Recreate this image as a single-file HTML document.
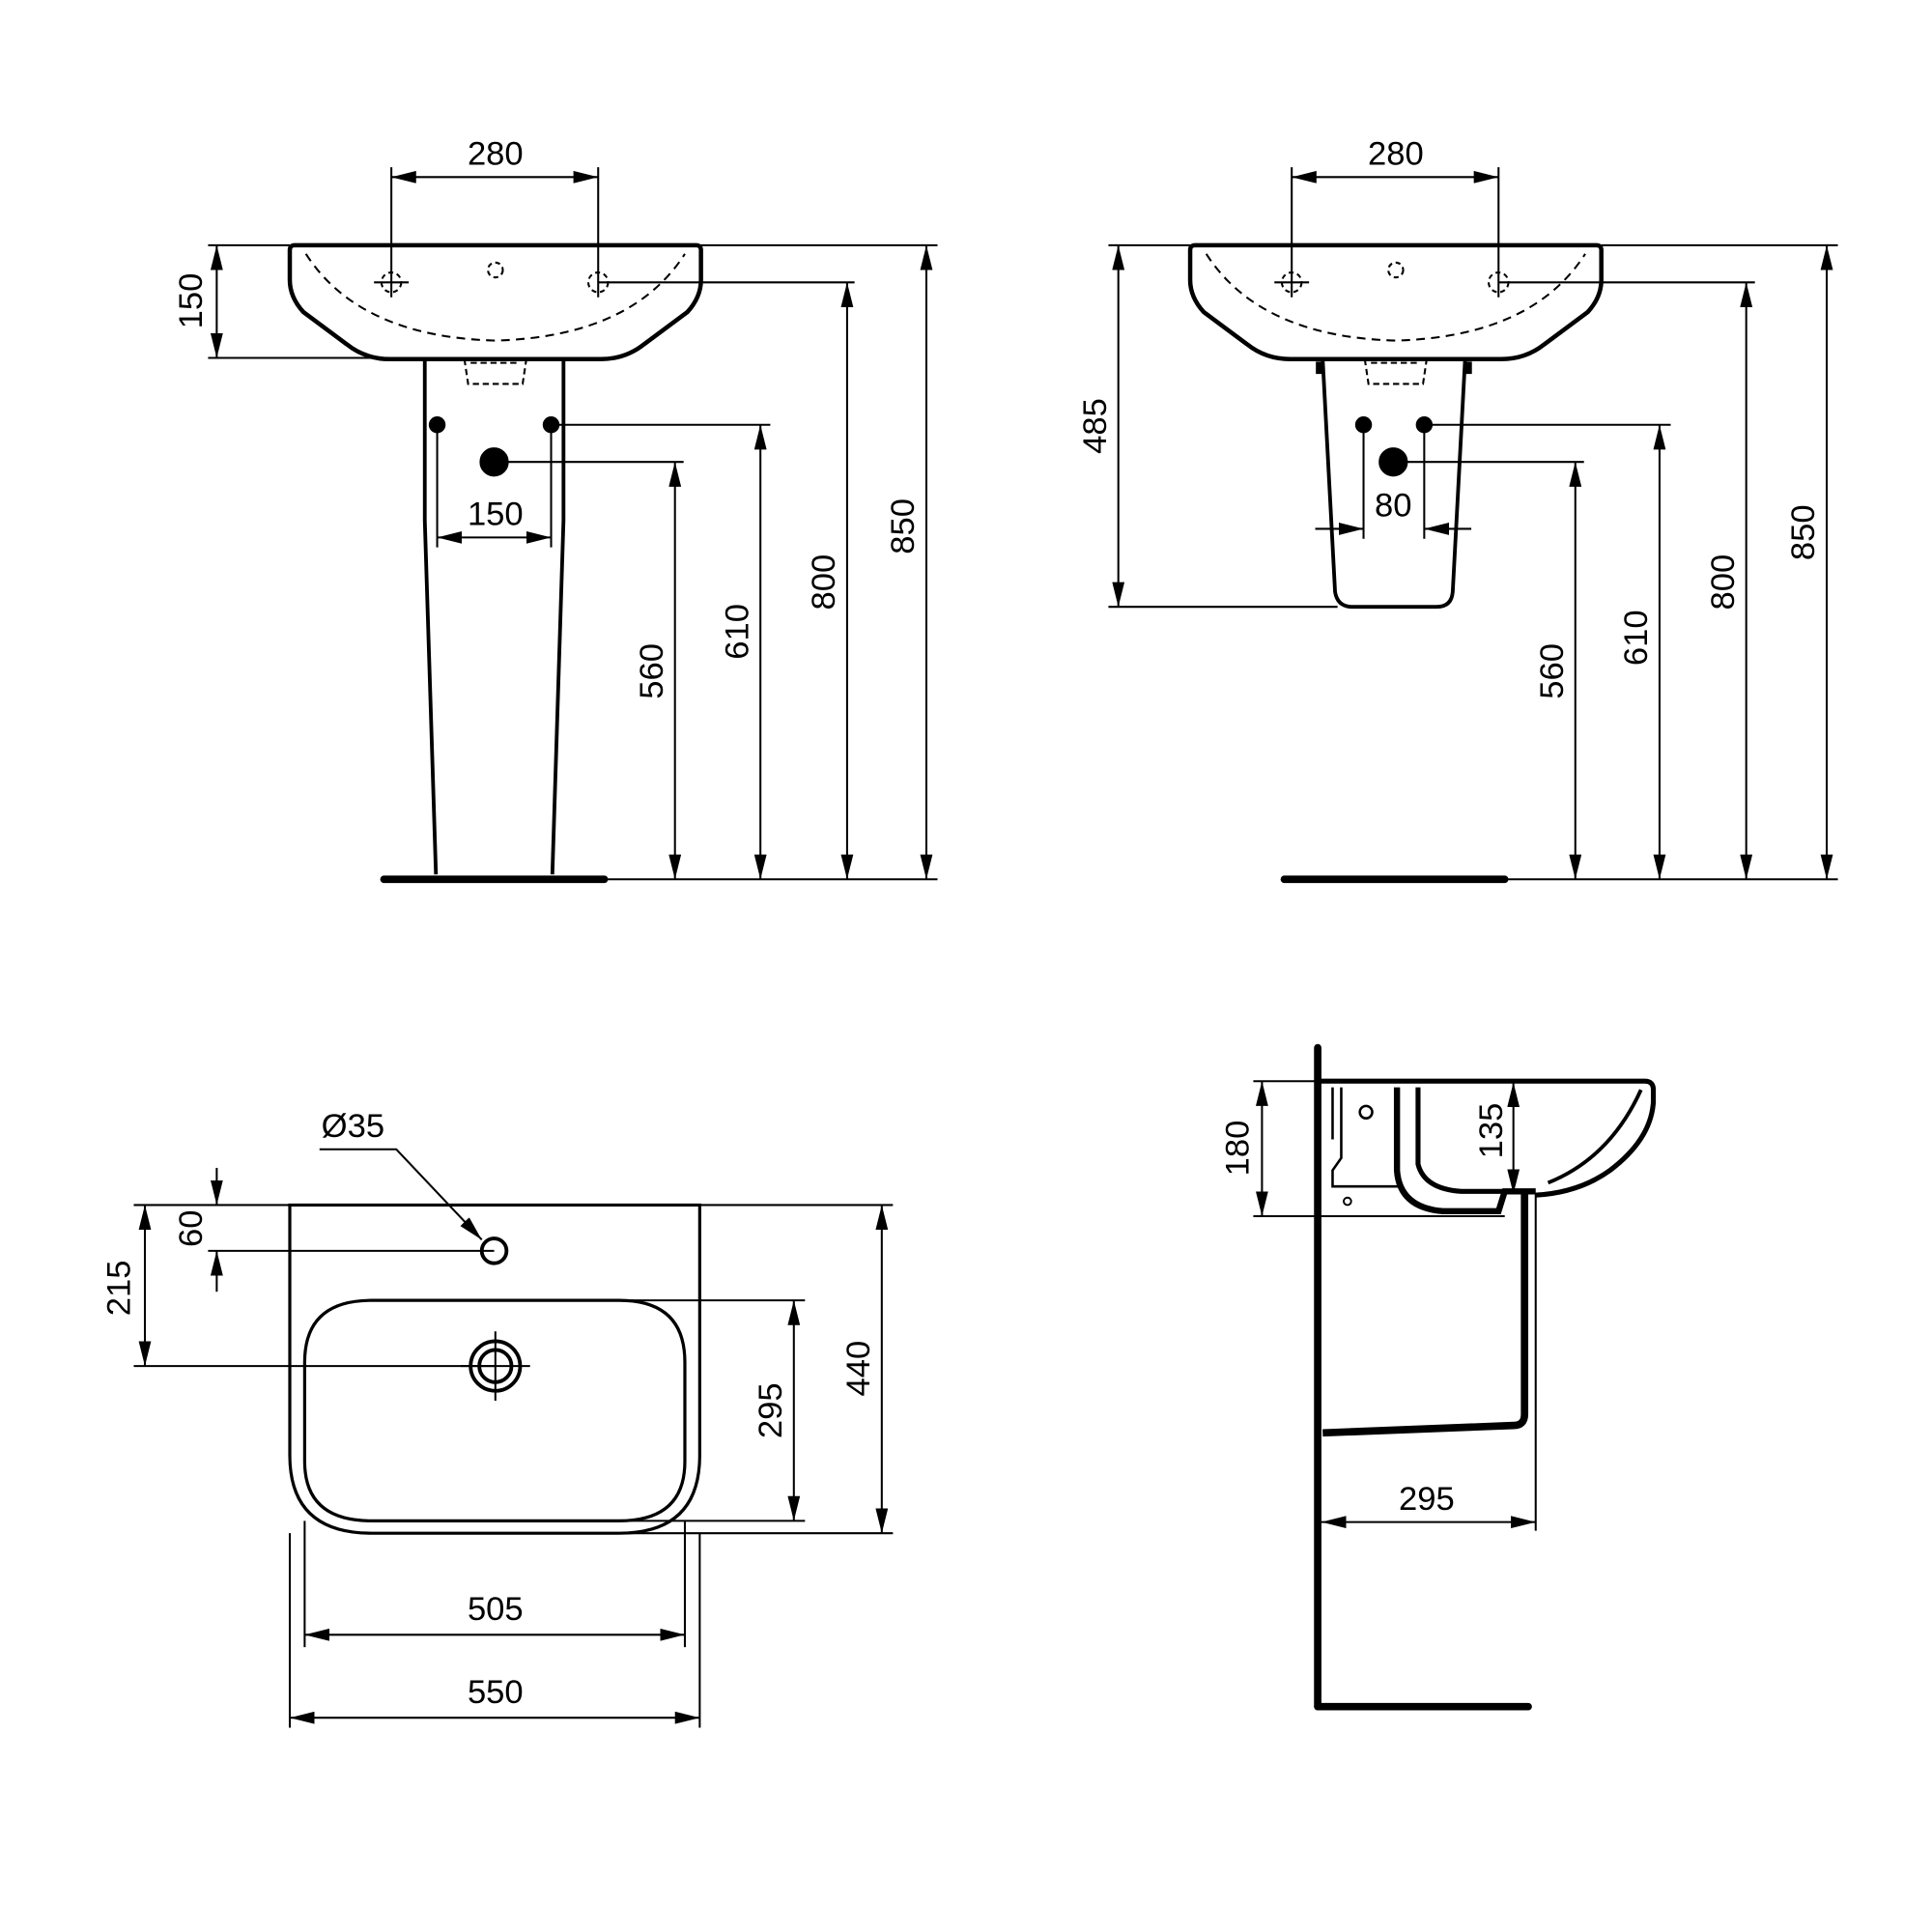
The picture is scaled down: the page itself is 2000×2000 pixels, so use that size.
<!DOCTYPE html>
<html><head><meta charset="utf-8"><style>html,body{margin:0;padding:0;background:#fff}svg{display:block}</style></head>
<body>
<svg width="2000" height="2000" viewBox="0 0 1560 1560" xmlns="http://www.w3.org/2000/svg" font-family="Liberation Sans, sans-serif" font-size="27" fill="none" stroke="#000">
<defs>
<marker id="a" viewBox="0 0 20 10" refX="20" refY="5" markerWidth="20" markerHeight="10" markerUnits="userSpaceOnUse" orient="auto-start-reverse"><path d="M0,0 L20,5 L0,10 Z" fill="#000" stroke="none"/></marker>
</defs>
<g stroke-width="1.6">
<!-- ============ TOP LEFT ============ -->
<g id="tl">
<path d="M238,198 H562 Q566,198 566,202 V226 Q566,240 555,252 L520,278 Q505,290 485,290 H315 Q295,290 280,278 L245,252 Q234,240 234,226 V202 Q234,198 238,198 Z" stroke-width="3.5"/>
<path d="M247,205 Q290,272 400,275 Q510,272 553,205" stroke-dasharray="7,5"/>
<circle cx="400" cy="218" r="6" stroke-dasharray="4,3"/>
<circle cx="316" cy="228" r="8" stroke-dasharray="4,3"/><line x1="302" y1="228" x2="330" y2="228"/>
<circle cx="483" cy="228" r="8" stroke-dasharray="4,3"/>
<path d="M375,290 L378,310 H422 L425,290 M380,293 H420" stroke-dasharray="5,3"/>
<path d="M343,290 V420 L352,706 M455,290 V420 L446,706" stroke-width="3"/>
<line x1="310" y1="710" x2="488" y2="710" stroke-width="6" stroke-linecap="round"/>
<circle cx="353" cy="343" r="6" fill="#000"/><circle cx="445" cy="343" r="6" fill="#000"/>
<circle cx="399" cy="373" r="11" fill="#000"/>
<line x1="316" y1="135" x2="316" y2="240"/><line x1="483" y1="135" x2="483" y2="240"/>
<line x1="316" y1="143" x2="483" y2="143" marker-start="url(#a)" marker-end="url(#a)"/>
<line x1="168" y1="198" x2="234" y2="198"/><line x1="168" y1="289" x2="310" y2="289"/>
<line x1="175" y1="198" x2="175" y2="289" marker-start="url(#a)" marker-end="url(#a)"/>
<line x1="566" y1="198" x2="757" y2="198"/><line x1="483" y1="228" x2="690" y2="228"/>
<line x1="445" y1="343" x2="622" y2="343"/><line x1="399" y1="373" x2="552" y2="373"/>
<line x1="488" y1="710" x2="757" y2="710"/>
<line x1="748" y1="198" x2="748" y2="710" marker-start="url(#a)" marker-end="url(#a)"/>
<line x1="684" y1="228" x2="684" y2="710" marker-start="url(#a)" marker-end="url(#a)"/>
<line x1="614" y1="343" x2="614" y2="710" marker-start="url(#a)" marker-end="url(#a)"/>
<line x1="545" y1="373" x2="545" y2="710" marker-start="url(#a)" marker-end="url(#a)"/>
<line x1="353" y1="343" x2="353" y2="442"/><line x1="445" y1="343" x2="445" y2="442"/>
<line x1="353" y1="434" x2="445" y2="434" marker-start="url(#a)" marker-end="url(#a)"/>
</g>
<g fill="#000" stroke="none">
<text x="400" y="133" text-anchor="middle">280</text>
<text x="400" y="424" text-anchor="middle">150</text>
<text transform="translate(163,243) rotate(-90)" text-anchor="middle">150</text>
<text transform="translate(738,425) rotate(-90)" text-anchor="middle">850</text>
<text transform="translate(674,470) rotate(-90)" text-anchor="middle">800</text>
<text transform="translate(604,510) rotate(-90)" text-anchor="middle">610</text>
<text transform="translate(535,542) rotate(-90)" text-anchor="middle">560</text>
</g>
<!-- ============ TOP RIGHT ============ -->
<g>
<path d="M965,198 H1289 Q1293,198 1293,202 V226 Q1293,240 1282,252 L1247,278 Q1232,290 1212,290 H1042 Q1022,290 1007,278 L972,252 Q961,240 961,226 V202 Q961,198 965,198 Z" stroke-width="3.5"/>
<path d="M974,205 Q1017,272 1127,275 Q1237,272 1280,205" stroke-dasharray="7,5"/>
<circle cx="1127" cy="218" r="6" stroke-dasharray="4,3"/>
<circle cx="1043" cy="228" r="8" stroke-dasharray="4,3"/><line x1="1029" y1="228" x2="1057" y2="228"/>
<circle cx="1210" cy="228" r="8" stroke-dasharray="4,3"/>
<path d="M1102,290 L1105,310 H1149 L1152,290 M1107,293 H1147" stroke-dasharray="5,3"/>
<path d="M1068,290 L1078,478 Q1080,490 1092,490 H1160 Q1172,490 1173,478 L1183,290" stroke-width="3"/>
<path d="M1065,292 V302 M1186,292 V302" stroke-width="5"/>
<line x1="1037" y1="710" x2="1215" y2="710" stroke-width="6" stroke-linecap="round"/>
<circle cx="1101" cy="343" r="6" fill="#000"/><circle cx="1150" cy="343" r="6" fill="#000"/>
<circle cx="1125" cy="373" r="11" fill="#000"/>
<line x1="1043" y1="135" x2="1043" y2="240"/><line x1="1210" y1="135" x2="1210" y2="240"/>
<line x1="1043" y1="143" x2="1210" y2="143" marker-start="url(#a)" marker-end="url(#a)"/>
<line x1="895" y1="198" x2="961" y2="198"/><line x1="895" y1="490" x2="1080" y2="490"/>
<line x1="903" y1="198" x2="903" y2="490" marker-start="url(#a)" marker-end="url(#a)"/>
<line x1="1293" y1="198" x2="1484" y2="198"/><line x1="1210" y1="228" x2="1417" y2="228"/>
<line x1="1150" y1="343" x2="1349" y2="343"/><line x1="1125" y1="373" x2="1279" y2="373"/>
<line x1="1215" y1="710" x2="1484" y2="710"/>
<line x1="1475" y1="198" x2="1475" y2="710" marker-start="url(#a)" marker-end="url(#a)"/>
<line x1="1410" y1="228" x2="1410" y2="710" marker-start="url(#a)" marker-end="url(#a)"/>
<line x1="1340" y1="343" x2="1340" y2="710" marker-start="url(#a)" marker-end="url(#a)"/>
<line x1="1272" y1="373" x2="1272" y2="710" marker-start="url(#a)" marker-end="url(#a)"/>
<line x1="1101" y1="343" x2="1101" y2="435"/><line x1="1150" y1="343" x2="1150" y2="435"/>
<line x1="1062" y1="427" x2="1101" y2="427" marker-end="url(#a)"/>
<line x1="1188" y1="427" x2="1150" y2="427" marker-end="url(#a)"/>
</g>
<g fill="#000" stroke="none">
<text x="1127" y="133" text-anchor="middle">280</text>
<text x="1125" y="417" text-anchor="middle">80</text>
<text transform="translate(893,344) rotate(-90)" text-anchor="middle">485</text>
<text transform="translate(1465,430) rotate(-90)" text-anchor="middle">850</text>
<text transform="translate(1400,470) rotate(-90)" text-anchor="middle">800</text>
<text transform="translate(1330,515) rotate(-90)" text-anchor="middle">610</text>
<text transform="translate(1262,542) rotate(-90)" text-anchor="middle">560</text>
</g>
<!-- ============ BOTTOM LEFT ============ -->
<g>
<path d="M234,973 H565 V1175 Q565,1238 500,1238 H300 Q234,1238 234,1175 Z" stroke-width="2.5"/>
<path d="M300,1050 H500 Q553,1050 553,1100 V1180 Q553,1228 500,1228 H300 Q246,1228 246,1180 V1100 Q246,1050 300,1050 Z" stroke-width="2.5"/>
<circle cx="399" cy="1010" r="10" stroke-width="3"/>
<circle cx="400" cy="1103" r="20" stroke-width="3"/><circle cx="400" cy="1103" r="13" stroke-width="3"/>
<line x1="372" y1="1103" x2="428" y2="1103"/><line x1="400" y1="1075" x2="400" y2="1131"/>
<line x1="565" y1="973" x2="721" y2="973"/><line x1="400" y1="1238" x2="721" y2="1238"/>
<line x1="712" y1="973" x2="712" y2="1238" marker-start="url(#a)" marker-end="url(#a)"/>
<line x1="400" y1="1050" x2="650" y2="1050"/><line x1="480" y1="1228" x2="650" y2="1228"/>
<line x1="641" y1="1050" x2="641" y2="1228" marker-start="url(#a)" marker-end="url(#a)"/>
<line x1="108" y1="973" x2="234" y2="973"/><line x1="108" y1="1103" x2="400" y2="1103"/>
<line x1="117" y1="973" x2="117" y2="1103" marker-start="url(#a)" marker-end="url(#a)"/>
<line x1="168" y1="1010" x2="399" y2="1010"/>
<line x1="175" y1="943" x2="175" y2="973" marker-end="url(#a)"/>
<line x1="175" y1="1043" x2="175" y2="1010" marker-end="url(#a)"/>
<line x1="246" y1="1228" x2="246" y2="1330"/><line x1="553" y1="1228" x2="553" y2="1330"/>
<line x1="246" y1="1320" x2="553" y2="1320" marker-start="url(#a)" marker-end="url(#a)"/>
<line x1="234" y1="1238" x2="234" y2="1395"/><line x1="565" y1="1238" x2="565" y2="1395"/>
<line x1="234" y1="1387" x2="565" y2="1387" marker-start="url(#a)" marker-end="url(#a)"/>
<path d="M258,928 H320 L389,1001" marker-end="url(#a)"/>
</g>
<g fill="#000" stroke="none">
<text x="285" y="918" text-anchor="middle">Ø35</text>
<text x="400" y="1308" text-anchor="middle">505</text>
<text x="400" y="1375" text-anchor="middle">550</text>
<text transform="translate(702,1105) rotate(-90)" text-anchor="middle">440</text>
<text transform="translate(631,1139) rotate(-90)" text-anchor="middle">295</text>
<text transform="translate(105,1040) rotate(-90)" text-anchor="middle">215</text>
<text transform="translate(163,992) rotate(-90)" text-anchor="middle">60</text>
</g>
<!-- ============ BOTTOM RIGHT ============ -->
<g>
<line x1="1064" y1="846" x2="1064" y2="1378" stroke-width="6" stroke-linecap="round"/>
<line x1="1064" y1="1378" x2="1234" y2="1378" stroke-width="6" stroke-linecap="round"/>
<path d="M1064,873 H1328 Q1335,873 1335,880 V890 Q1333,920 1300,945 Q1275,963 1240,965" stroke-width="4"/>
<path d="M1325,880 Q1300,935 1250,955" stroke-width="3"/>
<path d="M1128,878 V945 Q1130,975 1165,978 H1210 L1215,962 H1240" stroke-width="5"/>
<path d="M1145,878 V940 Q1150,960 1180,962 H1215" stroke-width="4"/>
<path d="M1076,878 V920 M1083,878 V935 L1076,945 V958 H1130" stroke-width="2"/>
<circle cx="1103" cy="898" r="5" stroke-width="2"/>
<circle cx="1088" cy="970" r="3" stroke-width="1.5"/>
<path d="M1231,963 V1142 Q1231,1151 1222,1151 L1068,1157" stroke-width="6"/>
<line x1="1240" y1="963" x2="1240" y2="1236"/>
<line x1="1064" y1="982" x2="1215" y2="982"/>
<line x1="1012" y1="873" x2="1064" y2="873"/><line x1="1012" y1="982" x2="1064" y2="982"/>
<line x1="1019" y1="873" x2="1019" y2="982" marker-start="url(#a)" marker-end="url(#a)"/>
<line x1="1222" y1="874" x2="1222" y2="964" marker-start="url(#a)" marker-end="url(#a)"/>
<line x1="1067" y1="1229" x2="1240" y2="1229" marker-start="url(#a)" marker-end="url(#a)"/>
</g>
<g fill="#000" stroke="none">
<text transform="translate(1008,927) rotate(-90)" text-anchor="middle">180</text>
<text transform="translate(1213,913) rotate(-90)" text-anchor="middle">135</text>
<text x="1152" y="1219" text-anchor="middle">295</text>
</g>
</g>
</svg>
</body></html>
